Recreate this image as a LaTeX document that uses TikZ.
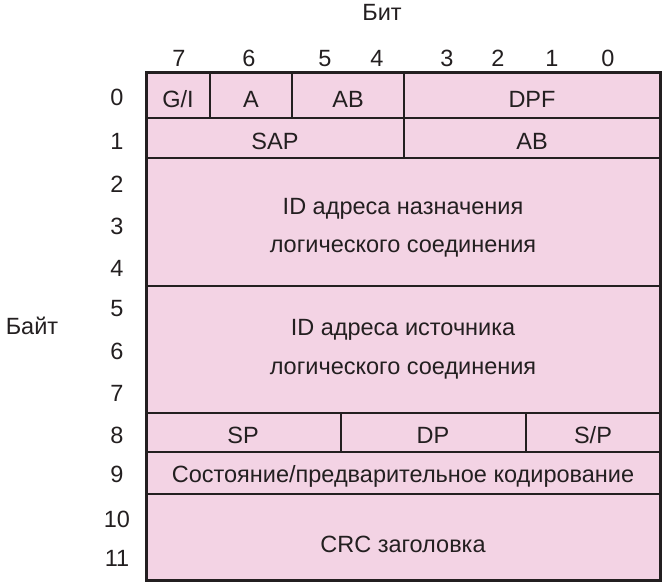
\documentclass[tikz,border=0pt]{standalone}
\usepackage{fontspec}
\setmainfont{Liberation Sans}
\definecolor{cellpink}{HTML}{F3D3E4}
\definecolor{linegray}{HTML}{231F20}
\begin{document}
\begin{tikzpicture}[x=1pt,y=-1pt,
  lbl/.style={font=\fontsize{23.5}{26}\selectfont, text=linegray, inner sep=0pt, anchor=base},
  frame/.style={draw=linegray, line width=3pt}]
\useasboundingbox (0,0) rectangle (668,583);
% cells
\fill[cellpink] (146,73) rectangle (660,580);
\draw[draw=linegray, line width=2.6pt]
  (146,118) -- (660,118)
  (146,158) -- (660,158)
  (146,286) -- (660,286)
  (146,413) -- (660,413)
  (146,452) -- (660,452)
  (146,494) -- (660,494)
  (210,73) -- (210,118)
  (292,73) -- (292,118)
  (404,73) -- (404,158)
  (341,413) -- (341,452)
  (526,413) -- (526,452);
\draw[frame] (146,73) rectangle (660,580);
% header
\node[lbl] (bit) at (382,21) {Бит};
\node[lbl] (byte) at (32,334) {Байт};
\foreach \t/\x in {7/179,6/249,5/325,4/377,3/447,2/498,1/552,0/608}
  \node[lbl] (b\t) at (\x,67) {\t};
\foreach \t/\y in {0/106,1/149,2/192,3/234,4/276,5/316,6/359,7/401,8/443,9/482,10/527,11/566}
  \node[lbl] (r\t) at (117,\y) {\t};
% field labels
\node[lbl] (gi) at (178,107) {G/I};
\node[lbl] (a) at (251,107) {A};
\node[lbl] (ab1) at (348,107) {AB};
\node[lbl] (dpf) at (532,107) {DPF};
\node[lbl] (sap) at (275,149) {SAP};
\node[lbl] (ab2) at (532,149) {AB};
\node[lbl] (dst1) at (403,214) {ID адреса назначения};
\node[lbl] (dst2) at (403,252) {логического соединения};
\node[lbl] (src1) at (403,335) {ID адреса источника};
\node[lbl] (src2) at (403,374) {логического соединения};
\node[lbl] (sp) at (243,443) {SP};
\node[lbl] (dp) at (433,443) {DP};
\node[lbl] (spp) at (593,443) {S/P};
\node[lbl] (st) at (403,482) {Состояние/предварительное кодирование};
\node[lbl] (crc) at (403,552) {CRC заголовка};
\end{tikzpicture}
\end{document}
